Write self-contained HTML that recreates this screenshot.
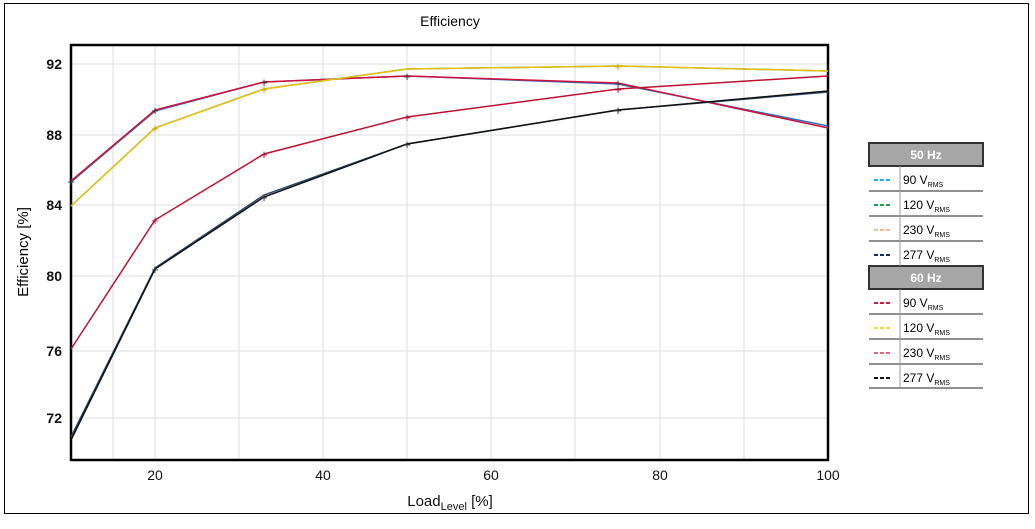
<!DOCTYPE html>
<html><head><style>
body{margin:0;background:#fff;width:1035px;height:524px;overflow:hidden;font-family:"Liberation Sans",sans-serif}
</style></head><body>
<svg width="1035" height="524" xmlns="http://www.w3.org/2000/svg" font-family="Liberation Sans, sans-serif">
<rect x="4.5" y="3.5" width="1024" height="510" fill="#fff" stroke="#000" stroke-width="1"/>
<text x="450" y="26" font-size="14" text-anchor="middle">Efficiency</text>
<g stroke="#ddd" stroke-width="1">
<line x1="113" y1="45" x2="113" y2="460"/><line x1="155" y1="45" x2="155" y2="460"/>
<line x1="239" y1="45" x2="239" y2="460"/><line x1="323" y1="45" x2="323" y2="460"/>
<line x1="407" y1="45" x2="407" y2="460"/><line x1="491" y1="45" x2="491" y2="460"/>
<line x1="575" y1="45" x2="575" y2="460"/><line x1="660" y1="45" x2="660" y2="460"/>
<line x1="744" y1="45" x2="744" y2="460"/>
<line x1="71" y1="64" x2="828" y2="64"/><line x1="71" y1="135" x2="828" y2="135"/>
<line x1="71" y1="205" x2="828" y2="205"/><line x1="71" y1="276" x2="828" y2="276"/>
<line x1="71" y1="351" x2="828" y2="351"/><line x1="71" y1="418" x2="828" y2="418"/>
</g>
<rect x="71" y="45" width="757" height="415" fill="none" stroke="#000" stroke-width="2.5"/>
<g font-size="14" text-anchor="end" font-weight="bold" fill="#111">
<text x="62" y="69">92</text><text x="62" y="140">88</text><text x="62" y="210">84</text>
<text x="62" y="281">80</text><text x="62" y="356">76</text><text x="62" y="423">72</text>
</g>
<g font-size="14" text-anchor="middle" fill="#111">
<text x="155" y="480">20</text><text x="323" y="480">40</text><text x="491" y="480">60</text>
<text x="660" y="480">80</text><text x="828" y="480">100</text>
<text x="450" y="506" font-size="15">Load<tspan font-size="11" dy="4">Level</tspan><tspan dy="-4"> [%]</tspan></text>
</g>
<text transform="translate(28,252) rotate(-90)" font-size="15" text-anchor="middle">Efficiency [%]</text>
<g fill="none" stroke-width="1.5">
<polyline stroke="#2a6fc0" points="71,182 155,111 264,82 407,76 618,84 828,126"/>
<polyline stroke="#d0103a" points="71,181 155,110 264,82 407,76 618,83 828,128"/>
<polyline stroke="#3a9a40" points="71,206 155,128 264,89 407,69 618,66 828,71"/>
<polyline stroke="#e8c010" points="71,206 155,128 264,89 407,69 618,66 828,71"/>
<polyline stroke="#c01030" points="71,349 155,220 264,154 407,117 618,89 828,76"/>
<polyline stroke="#2a4a70" points="71,437 155,268 264,195 407,144 618,110 828,92"/>
<polyline stroke="#111" points="71,440 155,269 264,197 407,144 618,110 828,91"/>
</g>
<g font-size="13" text-anchor="middle" fill="#333">
<text x="71" y="186">+</text><text x="155" y="115">+</text><text x="264" y="87">+</text><text x="407" y="81">+</text><text x="618" y="88">+</text>
<text x="155" y="133" fill="#c9a000">+</text><text x="264" y="94" fill="#c9a000">+</text><text x="618" y="71" fill="#c9a000">+</text>
<text x="155" y="225" fill="#b01030">+</text><text x="264" y="159" fill="#b01030">+</text><text x="407" y="122" fill="#b01030">+</text><text x="618" y="94" fill="#b01030">+</text>
<text x="155" y="274">+</text><text x="264" y="202">+</text><text x="407" y="149">+</text><text x="618" y="115">+</text>
</g>
<g font-size="12">
<rect x="869" y="143" width="114" height="23" fill="#a6a6a6" stroke="#333" stroke-width="2"/>
<text x="926" y="159" text-anchor="middle" fill="#fff" font-weight="bold">50 Hz</text>
<rect x="869" y="266" width="114" height="23" fill="#a6a6a6" stroke="#333" stroke-width="2"/>
<text x="926" y="282" text-anchor="middle" fill="#fff" font-weight="bold">60 Hz</text>
<g stroke="#222" stroke-width="1">
<line x1="869" y1="191" x2="983" y2="191"/><line x1="869" y1="216" x2="983" y2="216"/><line x1="869" y1="241" x2="983" y2="241"/>
<line x1="869" y1="314" x2="983" y2="314"/><line x1="869" y1="339" x2="983" y2="339"/><line x1="869" y1="364" x2="983" y2="364"/><line x1="869" y1="388" x2="983" y2="388"/>
<line x1="900" y1="166" x2="900" y2="266" stroke="#999"/><line x1="900" y1="289" x2="900" y2="388" stroke="#999"/>
</g>
<g stroke-width="2" stroke-dasharray="4,2">
<line x1="874" y1="180" x2="892" y2="180" stroke="#1cb0f0"/>
<line x1="874" y1="205" x2="892" y2="205" stroke="#20a050"/>
<line x1="874" y1="230" x2="892" y2="230" stroke="#f8b890"/>
<line x1="874" y1="255" x2="892" y2="255" stroke="#1a2a60"/>
<line x1="874" y1="303" x2="892" y2="303" stroke="#e01040"/>
<line x1="874" y1="328" x2="892" y2="328" stroke="#f8d840"/>
<line x1="874" y1="353" x2="892" y2="353" stroke="#f06080"/>
<line x1="874" y1="378" x2="892" y2="378" stroke="#111"/>
</g>
<text x="903" y="184">90 V<tspan font-size="7" dy="3">RMS</tspan></text>
<text x="903" y="209">120 V<tspan font-size="7" dy="3">RMS</tspan></text>
<text x="903" y="234">230 V<tspan font-size="7" dy="3">RMS</tspan></text>
<text x="903" y="259">277 V<tspan font-size="7" dy="3">RMS</tspan></text>
<text x="903" y="307">90 V<tspan font-size="7" dy="3">RMS</tspan></text>
<text x="903" y="332">120 V<tspan font-size="7" dy="3">RMS</tspan></text>
<text x="903" y="357">230 V<tspan font-size="7" dy="3">RMS</tspan></text>
<text x="903" y="382">277 V<tspan font-size="7" dy="3">RMS</tspan></text>
</g>
</svg>
</body></html>
